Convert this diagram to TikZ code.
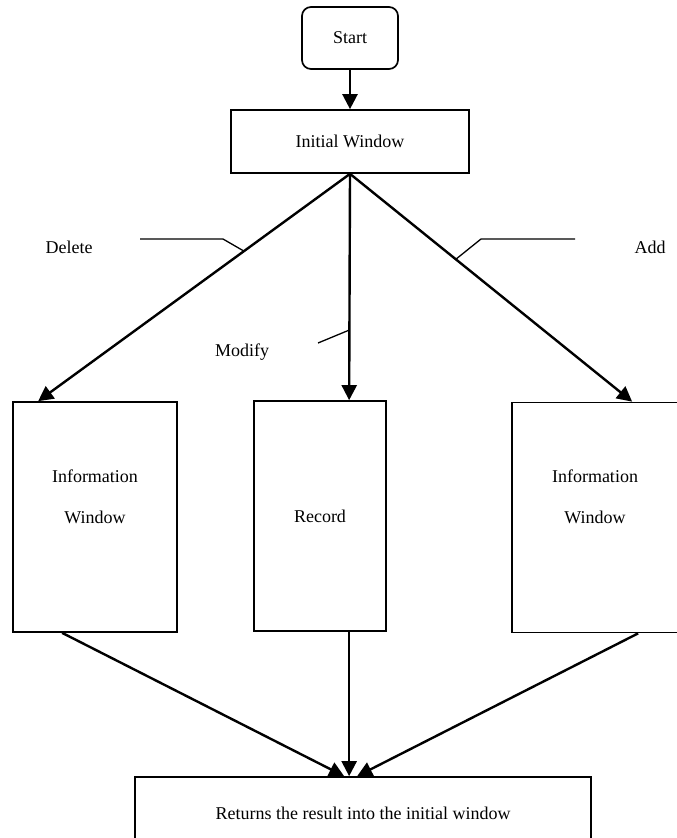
\documentclass[tikz,border=0pt]{standalone}
\usepackage{fontspec}
\setmainfont{Liberation Serif}
\usetikzlibrary{arrows.meta}
\begin{document}
\begin{tikzpicture}[x=1pt,y=-1pt,font=\fontsize{18}{21}\selectfont,
  box/.style={draw,line width=1.7pt,inner sep=0pt},
  flow/.style={line width=2.4pt,-{Triangle[length=15pt,width=15pt]}},
  leader/.style={line width=1.3pt}]
\clip (0,0) rectangle (677,838);
\pgfmathsetmacro{\hb}{230}   %height of the three windows
%top
\node[box,rounded corners=9pt,minimum width=96pt,minimum height=62pt] (start) at (350,38) {Start};
\node[box,minimum width=238pt,minimum height=63pt] (init) at (350,141.5) {Initial Window};
%windows
\node[box,minimum width=164pt,minimum height=\hb pt] (infoL) at (95,517) {};
\node (infoLa) at (95,476) {Information};
\node (infoLb) at (95,517) {Window};
\node[box,minimum width=132pt,minimum height=\hb pt] (rec) at (320,516) {Record};
\node[box,minimum width=168pt,minimum height=\hb pt] (infoR) at (596,517.5) {};
\node (infoRa) at (595,476) {Information};
\node (infoRb) at (595,517) {Window};
%result
\node[box,minimum width=456pt,minimum height=73pt] (ret) at (363,813.5) {Returns the result into the initial window};
%arrows
\draw[flow] (start) -- (init);
\draw[flow] (init.south) -- coordinate[pos=0.34] (delP) ([xshift=26pt]infoL.north west);
\draw[flow] (init.south) -- coordinate[pos=0.69] (modP) ([xshift=96pt]rec.north west);
\draw[flow] (init.south) -- coordinate[pos=0.375] (addP) ([xshift=121pt]infoR.north west);
\draw[flow] ([xshift=50pt]infoL.south west) -- ([xshift=210pt]ret.north west);
\draw[flow] ([xshift=96pt]rec.south west) -- ([xshift=215pt]ret.north west);
\draw[flow] ([xshift=127pt]infoR.south west) -- ([xshift=223pt]ret.north west);
%labels
\node (del) at (69,247) {Delete};
\node (mod) at (242,352) {Modify};
\node (add) at (650,247) {Add};
\draw[leader] (delP) -- (223,239) -- (140,239);
\draw[leader] (modP) -- (318,343);
\draw[leader] (addP) -- (481,239) -- (575,239);
\end{tikzpicture}
\end{document}
